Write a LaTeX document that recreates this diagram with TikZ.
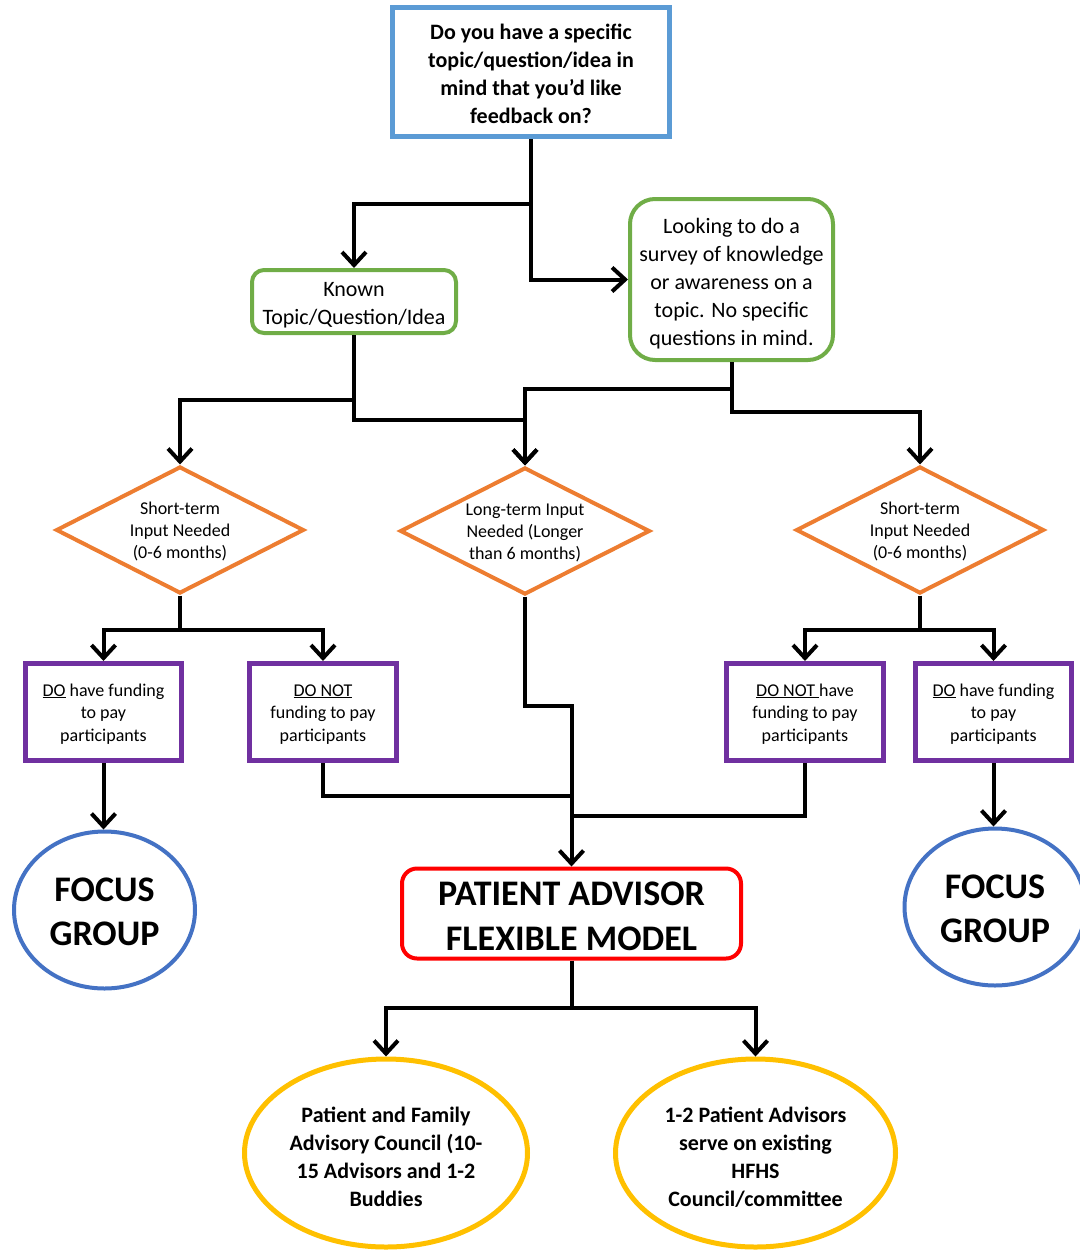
\documentclass[tikz,border=0pt]{standalone}
\usepackage{fontspec}
\setmainfont{Carlito}
\usetikzlibrary{shapes.geometric,arrows.meta,calc}
\definecolor{cblue}{HTML}{5B9BD5}
\definecolor{cgreen}{HTML}{70AD47}
\definecolor{corange}{HTML}{ED7D31}
\definecolor{cpurple}{HTML}{7030A0}
\definecolor{cred}{HTML}{FF0000}
\definecolor{cfocus}{HTML}{4472C4}
\definecolor{cyellow}{HTML}{FFC000}
% text block shifted down by #1 without changing its box size
\newcommand\tx[2]{\raisebox{-#1}[\height][\depth]{\begin{tabular}{@{}c@{}}#2\end{tabular}}}
\begin{document}
\begin{tikzpicture}[x=1pt,y=-1pt,
  qbox/.style={draw=cblue,line width=5pt,rectangle,minimum width=277pt,minimum height=129pt,inner sep=0pt,font=\bfseries\fontsize{22}{28}\selectfont},
  gbox/.style={draw=cgreen,line width=4pt,rectangle,inner sep=0pt,font=\fontsize{22}{28}\selectfont},
  dbox/.style={draw=corange,line width=4pt,diamond,aspect=1.95,inner sep=0pt,minimum width=248pt,minimum height=127pt,font=\fontsize{18}{22}\selectfont},
  pbox/.style={draw=cpurple,line width=5pt,rectangle,minimum height=97pt,inner sep=0pt,font=\fontsize{18}{22.5}\selectfont},
  fbox/.style={draw=cfocus,line width=4pt,ellipse,minimum width=181pt,minimum height=157pt,inner sep=0pt,font=\bfseries\fontsize{36}{44}\selectfont},
  rbox/.style={draw=cred,line width=4pt,rectangle,rounded corners=15pt,minimum width=339pt,minimum height=85pt,inner sep=0pt,font=\bfseries\fontsize{36}{45}\selectfont},
  ybox/.style={draw=cyellow,line width=5pt,ellipse,minimum height=188pt,inner sep=0pt,font=\bfseries\fontsize{22}{28}\selectfont},
  conn/.style={line width=4pt,black},
  arr/.style={conn,-{Straight Barb[length=13pt,width=24pt]}}
]
\useasboundingbox (0,0) rectangle (1079,1253);

% nodes
\node[qbox] (top) at (531,72) {\tx{3.5pt}{Do you have a specific\\topic/question/idea in\\mind that you’d like\\feedback on?}};
\node[gbox,rounded corners=12pt,minimum width=204pt,minimum height=63pt] (known) at (354,301.5) {\tx{3.5pt}{Known\\Topic/Question/Idea}};
\node[gbox,rounded corners=25pt,minimum width=203pt,minimum height=161pt] (survey) at (731.5,279.5) {\tx{4pt}{Looking to do a\\survey of knowledge\\or awareness on a\\topic. No specific\\questions in mind.}};

\node[dbox] (d1) at (180,530) {\tx{2pt}{Short-term\\Input Needed\\(0-6 months)}};
\node[dbox,minimum width=250pt] (d2) at (525,531) {\tx{2pt}{Long-term Input\\Needed (Longer\\than 6 months)}};
\node[dbox] (d3) at (920,530) {\tx{2pt}{Short-term\\Input Needed\\(0-6 months)}};

\node[pbox,minimum width=156pt] (pA) at (103.5,712) {\tx{2pt}{\underline{DO} have funding\\to pay\\participants}};
\node[pbox,minimum width=147pt] (pB) at (323,712) {\tx{2pt}{\underline{DO NOT}\\funding to pay\\participants}};
\node[pbox,minimum width=157pt] (pC) at (805,712) {\tx{2pt}{\underline{DO NOT }have\\funding to pay\\participants}};
\node[pbox,minimum width=156pt] (pD) at (993.5,712) {\tx{2pt}{\underline{DO} have funding\\to pay\\participants}};

\node[fbox] (fg1) at (104.5,910) {\tx{5pt}{FOCUS\\GROUP}};
\node[fbox] (fg2) at (995,907) {\tx{5pt}{FOCUS\\GROUP}};

\node[rbox] (pa) at (571.5,913.5) {\tx{5pt}{PATIENT ADVISOR\\FLEXIBLE MODEL}};

\node[ybox,minimum width=283pt] (y1) at (386,1153) {\tx{6pt}{Patient and Family\\Advisory Council (10-\\15 Advisors and 1-2\\Buddies}};
\node[ybox,minimum width=280pt] (y2) at (755.5,1153) {\tx{6pt}{1-2 Patient Advisors\\serve on existing\\HFHS\\Council/committee}};

% junction coordinates
\coordinate (j1) at (531,204);
\coordinate (j2) at (354,400);
\coordinate (j3) at (354,420);
\coordinate (j4) at (731.5,389);
\coordinate (j5) at (731.5,412);
\coordinate (j6) at (180,630);
\coordinate (j7) at (920,630);
\coordinate (j8) at (525,706);
\coordinate (j9) at (571.5,706);
\coordinate (j10) at (571.5,796);
\coordinate (j11) at (571.5,816);
\coordinate (j12) at (571.5,1008);

% connectors
\draw[arr] (top.south) -- (j1) -| (known.north);
\draw[arr] (j1) |- (survey.west);
\draw[arr] (known.south) -- (j2) -| (d1.north);
\draw[arr] (j2) -- (j3) -| (d2.north);
\draw[arr] (survey.south) -- (j4) -| (d2.north);
\draw[arr] (j4) -- (j5) -| (d3.north);
\draw[arr] (d1.south) -- (j6) -| (pA.north);
\draw[arr] (j6) -| (pB.north);
\draw[arr] (d3.south) -- (j7) -| (pC.north);
\draw[arr] (j7) -| (pD.north);
\draw[arr] (pA.south) -- (pA.south |- fg1.north);
\draw[arr] (pD.south) -- (pD.south |- fg2.north);
\draw[arr] (d2.south) -- (j8) -- (j9) -- (pa.north);
\draw[conn] (pB.south) |- (j10);
\draw[conn] (pC.south) |- (j11);
\draw[arr] (pa.south) -- (j12) -| (y1.north);
\draw[arr] (j12) -| (y2.north);
\end{tikzpicture}
\end{document}
